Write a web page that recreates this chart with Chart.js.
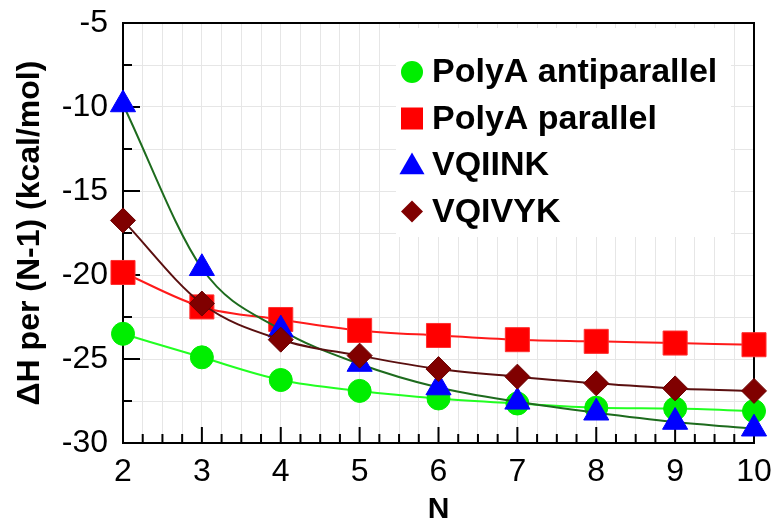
<!DOCTYPE html>
<html>
<head>
<meta charset="utf-8">
<script src="https://cdn.jsdelivr.net/npm/chart.js@4/dist/chart.umd.min.js"></script>
<style>
  html, body { margin: 0; padding: 0; background: #fff; }
  #wrap { width: 777px; height: 531px; }
</style>
</head>
<body>
<div id="wrap"><canvas id="dhChart" width="777" height="531"></canvas></div>
<script>
// số liệu
const nValues = [2, 3, 4, 5, 6, 7, 8, 9, 10];
const polyAAnti = [-23.5, -24.9, -26.25, -26.9, -27.35, -27.65, -27.9, -27.95, -28.1];
const polyAPar = [-19.85, -21.9, -22.65, -23.3, -23.6, -23.85, -23.95, -24.05, -24.15];
const vqiink = [-9.85, -19.6, -23.25, -25.3, -26.7, -27.55, -28.2, -28.75, -29.15];
const vqivyk = [-16.75, -21.7, -23.85, -24.8, -25.6, -26.05, -26.45, -26.75, -26.9];
const seriesNames = ['PolyA antiparallel', 'PolyA parallel', 'VQIINK', 'VQIVYK'];
const yTicks = [-30, -25, -20, -15, -10, -5];

const toPoints = (ys) => nValues.map((n, i) => ({ x: n, y: ys[i] }));

// vẽ marker cho chú thích
function drawMarker(ctx, style, x, y, r, fill) {
    ctx.save();
    ctx.fillStyle = fill;
    ctx.beginPath();
    if (style === 'circle') {
        ctx.arc(x, y, r, 0, Math.PI * 2);
    } else if (style === 'rect') {
        ctx.rect(x - r, y - r, 2 * r, 2 * r);
    } else if (style === 'triangle') {
        ctx.moveTo(x, y - r);
        ctx.lineTo(x + r * 0.866, y + r / 2);
        ctx.lineTo(x - r * 0.866, y + r / 2);
        ctx.closePath();
    } else {
        ctx.moveTo(x, y - r);
        ctx.lineTo(x + r, y);
        ctx.lineTo(x, y + r);
        ctx.lineTo(x - r, y);
        ctx.closePath();
    }
    ctx.fill();
    ctx.restore();
}

const framePlugin = {
    id: 'frame',
    beforeDatasetsDraw(chart) {
        const { ctx, chartArea: a, scales } = chart;
        ctx.save();
        // nền trắng của chú thích che lưới
        ctx.fillStyle = '#fff';
        ctx.fillRect(a.left + 273, a.top + 5, 335, 209);

        ctx.strokeStyle = '#000';
        ctx.lineWidth = 2;
        ctx.strokeRect(a.left, a.top, a.right - a.left, a.bottom - a.top);

        // vạch chia hướng vào trong
        ctx.beginPath();
        scales.x.ticks.forEach(t => {
            const px = scales.x.getPixelForValue(t.value);
            const len = Number.isInteger(t.value) ? 16 : 9;
            ctx.moveTo(px, a.bottom);
            ctx.lineTo(px, a.bottom - len);
        });
        scales.y.ticks.forEach(t => {
            const py = scales.y.getPixelForValue(t.value);
            const len = t.value % 5 === 0 ? 17 : 9;
            ctx.moveTo(a.left, py);
            ctx.lineTo(a.left + len, py);
        });
        ctx.stroke();
        ctx.restore();
    },
    afterDraw(chart) {
        const { ctx, chartArea: a } = chart;
        const items = [
            { style: 'circle', r: 11, color: '#00ee00' },
            { style: 'rect', r: 11, color: '#ff0000' },
            { style: 'triangle', r: 14.5, color: '#0000ff' },
            { style: 'diamond', r: 11, color: '#800000' }
        ];
        ctx.save();
        ctx.font = 'bold 34px "Liberation Sans", Arial, sans-serif';
        ctx.fillStyle = '#000';
        ctx.textBaseline = 'middle';
        items.forEach((it, i) => {
            const y = a.top + 49 + i * 46.5;
            const my = it.style === 'triangle' ? y + 2 : y;
            drawMarker(ctx, it.style, a.left + 289, my, it.r, it.color);
            ctx.fillText(seriesNames[i], a.left + 309, y + 1);
        });
        ctx.restore();
    }
};

const ChartManager = {
    chart: null,

    render() {
        const ctx = document.getElementById('dhChart').getContext('2d');
        const base = {
            borderWidth: 2,
            pointBorderWidth: 1,
            cubicInterpolationMode: 'monotone',
            clip: false
        };
        this.chart = new Chart(ctx, {
            type: 'scatter',
            data: {
                datasets: [
                    { ...base, label: seriesNames[0], data: toPoints(polyAAnti), showLine: true, order: 3,
                      borderColor: '#22ff22', pointStyle: 'circle', pointRadius: 11.5,
                      pointBackgroundColor: '#00ee00', pointBorderColor: '#00ee00' },
                    { ...base, label: seriesNames[1], data: toPoints(polyAPar), showLine: true, order: 2,
                      borderColor: '#ff1a1a', pointStyle: 'rect', pointRadius: 17,
                      pointBackgroundColor: '#ff0000', pointBorderColor: '#ff3030' },
                    { ...base, label: seriesNames[2], data: toPoints(vqiink), showLine: true, order: 1,
                      borderColor: '#1d6b1d', pointStyle: 'triangle', pointRadius: 14.5,
                      pointBackgroundColor: '#0000ff', pointBorderColor: '#0000ff' },
                    { ...base, label: seriesNames[3], data: toPoints(vqivyk), showLine: true, order: 0,
                      borderColor: '#5a0f0f', pointStyle: 'rectRot', pointRadius: 12.5,
                      pointBackgroundColor: '#800000', pointBorderColor: '#6a0000' }
                ]
            },
            options: {
                responsive: false,
                animation: false,
                layout: { padding: { top: 23, right: 23, left: 0, bottom: 0 } },
                plugins: {
                    legend: { display: false },
                    tooltip: { enabled: false }
                },
                scales: {
                    x: {
                        type: 'linear',
                        min: 2,
                        max: 10,
                        afterFit: (s) => { s.height = 88; s.paddingLeft = 0; s.paddingRight = 0; },
                        grid: { color: '#e6e6e6', lineWidth: 1, drawTicks: false },
                        border: { display: false },
                        ticks: {
                            stepSize: 0.25,
                            autoSkip: false,
                            maxRotation: 0,
                            padding: 10,
                            color: '#000',
                            font: { family: '"Liberation Sans", Arial, sans-serif', size: 32 },
                            callback: (v) => Number.isInteger(v) ? String(v) : ''
                        },
                        title: {
                            display: true,
                            text: 'N',
                            color: '#000',
                            padding: { top: 3, bottom: 3 },
                            font: { family: '"Liberation Sans", Arial, sans-serif', size: 30, weight: 'bold' }
                        }
                    },
                    y: {
                        min: -30,
                        max: -5,
                        afterFit: (s) => { s.width = 123; s.paddingTop = 0; s.paddingBottom = 0; },
                        grid: { color: '#e6e6e6', lineWidth: 1, drawTicks: false },
                        border: { display: false },
                        ticks: {
                            stepSize: 2.5,
                            autoSkip: false,
                            padding: 15,
                            color: '#000',
                            font: { family: '"Liberation Sans", Arial, sans-serif', size: 32 },
                            callback: (v) => yTicks.includes(v) ? String(v) : ''
                        },
                        title: {
                            display: true,
                            text: 'ΔH per (N-1) (kcal/mol)',
                            color: '#000',
                            padding: { top: 11, bottom: 0 },
                            font: { family: '"Liberation Sans", Arial, sans-serif', size: 32, weight: 'bold' }
                        }
                    }
                }
            },
            plugins: [framePlugin]
        });
    }
};

ChartManager.render();
</script>
</body>
</html>
